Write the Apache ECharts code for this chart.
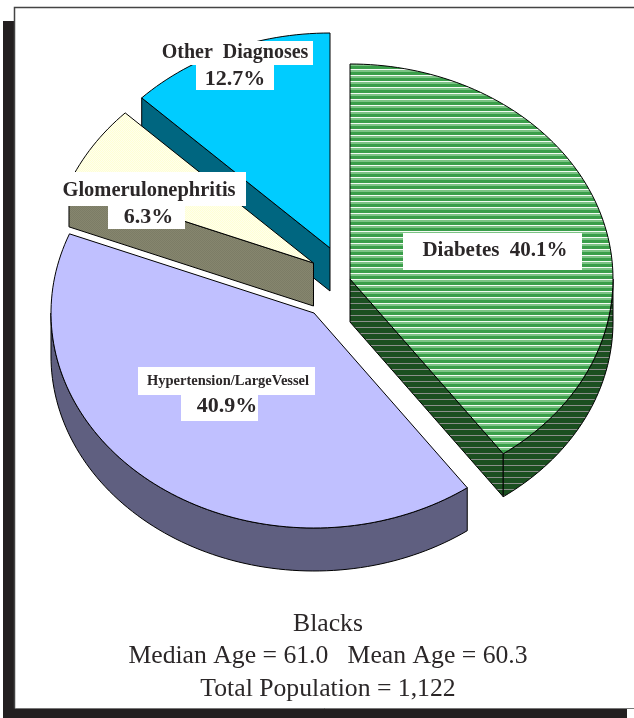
<!DOCTYPE html>
<html><head><meta charset="utf-8">
<style>html,body{margin:0;padding:0;background:#fff}#c{width:634px;height:718px}</style>
<script src="https://cdn.jsdelivr.net/npm/echarts@6/dist/echarts.min.js"></script>
</head><body><div id="c"></div>
<script>
// ---- data ----
const categories = ['Diabetes', 'Hypertension/LargeVessel', 'Glomerulonephritis', 'Other Diagnoses'];
const shares = [40.1, 40.9, 6.3, 12.7];
const captionLines = ['Blacks', 'Median Age = 61.0   Mean Age = 60.3', 'Total Population = 1,122'];

// ---- layout and style ----
const RX = 263, RY = 215, DEPTH = 43;
const apexX = [350, 314, 313.5, 330];
const apexY = [279, 313, 263, 248];
const drawOrder = [3, 2, 1, 0];
function pattern(rows) {
  const cv = document.createElement('canvas');
  cv.width = rows[0].length; cv.height = rows.length;
  const g = cv.getContext('2d');
  rows.forEach((r, y) => r.forEach((col, x) => { g.fillStyle = col; g.fillRect(x, y, 1, 1); }));
  return { image: cv, repeat: 'repeat' };
}
const G = '#3a9e4a', L = '#7cc485', W = '#f4fbf4', D = '#1b4f20', S = '#8b8f8b';
const topFill = [
  pattern([[G], [G], [G], [W], [L], [L]]),
  '#c0c0ff',
  pattern([['#ffffd4', '#ffffec'], ['#ffffec', '#ffffd4']]),
  '#00ccff'
];
const wallFill = [
  pattern([[D], [D], [D], [S], [D], [D]]),
  '#5f5f80',
  pattern([['#7c7c66', '#86866e'], ['#86866e', '#7c7c66']]),
  '#006680'
];
const labelStyle = [
  [{ text: 'Diabetes  40.1%', box: [403, 233, 179, 37], cx: 495, cy: 251, size: 21 }],
  [{ text: categories[1], box: [138, 367, 177, 28], cx: 228, cy: 381, size: 14.5 },
   { text: '40.9%', box: [181, 395, 77, 26], cx: 227, cy: 406, size: 22 }],
  [{ text: categories[2], box: [60, 172, 186, 34], cx: 149, cy: 191, size: 20.5 },
   { text: '6.3%', box: [108, 206, 77, 23], cx: 148.5, cy: 217, size: 22 }],
  [{ text: 'Other  Diagnoses', box: [158, 41, 155, 24], cx: 235, cy: 53, size: 20 },
   { text: '12.7%', box: [196, 65, 78, 25], cx: 235, cy: 79, size: 22 }]
];

const total = shares.reduce((a, b) => a + b, 0);
const startAngle = [];
shares.reduce((acc, v, i) => { startAngle[i] = acc; return acc + v / total * 360; }, 0);

function pt(i, deg, dy) {
  const a = deg * Math.PI / 180;
  return [apexX[i] + RX * Math.sin(a), apexY[i] - RY * Math.cos(a) + (dy || 0)];
}
function arc(i, a0, a1, dy) {
  const n = Math.max(2, Math.ceil(Math.abs(a1 - a0) / 1.5));
  const out = [];
  for (let k = 0; k <= n; k++) out.push(pt(i, a0 + (a1 - a0) * k / n, dy));
  return out;
}
const edge = { stroke: '#000', lineWidth: 1 };

function renderSlice(params, api) {
  const i = drawOrder[params.dataIndex];
  const value = api.value(1);
  const a0 = startAngle[i], a1 = a0 + value / total * 360;
  const children = [];
  const wall = (pts) => children.push({ type: 'polygon', shape: { points: pts }, style: Object.assign({ fill: wallFill[i] }, edge) });
  const apex = [apexX[i], apexY[i]];
  const apexLow = [apexX[i], apexY[i] + DEPTH];
  if (a0 >= 180 && a0 < 360) wall([apex, pt(i, a0), pt(i, a0, DEPTH), apexLow]);
  if (a1 > 0 && a1 < 180) wall([apex, pt(i, a1), pt(i, a1, DEPTH), apexLow]);
  const r0 = Math.max(a0, 90), r1 = Math.min(a1, 270);
  if (r1 > r0) wall(arc(i, r0, r1, 0).concat(arc(i, r1, r0, DEPTH)));
  children.push({ type: 'polygon', shape: { points: [apex].concat(arc(i, a0, a1, 0)) }, style: Object.assign({ fill: topFill[i] }, edge) });
  return { type: 'group', children };
}
function renderLabels(params) {
  const i = drawOrder[params.dataIndex];
  const children = [];
  labelStyle[i].forEach(l => {
    children.push({ type: 'rect', shape: { x: l.box[0], y: l.box[1], width: l.box[2], height: l.box[3] }, style: { fill: '#fff' } });
    children.push({ type: 'text', x: l.cx, y: l.cy, style: { text: l.text, fill: '#2b2728', font: 'bold ' + l.size + 'px "Liberation Serif"', textAlign: 'center', textVerticalAlign: 'middle' } });
  });
  return { type: 'group', children };
}

const seriesData = drawOrder.map(i => [categories[i], shares[i]]);
const chart = echarts.init(document.getElementById('c'), null, { renderer: 'canvas' });
chart.setOption({
  animation: false,
  backgroundColor: '#fff',
  title: captionLines.map((t, k) => ({
    text: t, left: 323, top: 606 + k * 32.5, textAlign: 'center',
    textStyle: { fontFamily: 'Liberation Serif', fontWeight: 'normal', fontSize: 25.7, color: '#2b2728' }
  })),
  graphic: [
    { type: 'rect', z: -1, shape: { x: 3, y: 21, width: 12, height: 697 }, style: { fill: '#231f20' } },
    { type: 'rect', z: -1, shape: { x: 3, y: 708, width: 624, height: 10 }, style: { fill: '#231f20' } },
    { type: 'polyline', z: -1, shape: { points: [[14.5, 708.5], [14.5, 7.5], [634, 7.5]] }, style: { stroke: '#444', lineWidth: 1.5, fill: null } },
    { type: 'line', z: -1, shape: { x1: 15, y1: 708.5, x2: 634, y2: 708.5 }, style: { stroke: '#777', lineWidth: 1 } }
  ],
  series: [
    { type: 'custom', coordinateSystem: 'none', silent: true, clip: false, z: 2, data: seriesData, renderItem: renderSlice },
    { type: 'custom', coordinateSystem: 'none', silent: true, clip: false, z: 3, data: seriesData, renderItem: renderLabels }
  ]
});
</script></body></html>
